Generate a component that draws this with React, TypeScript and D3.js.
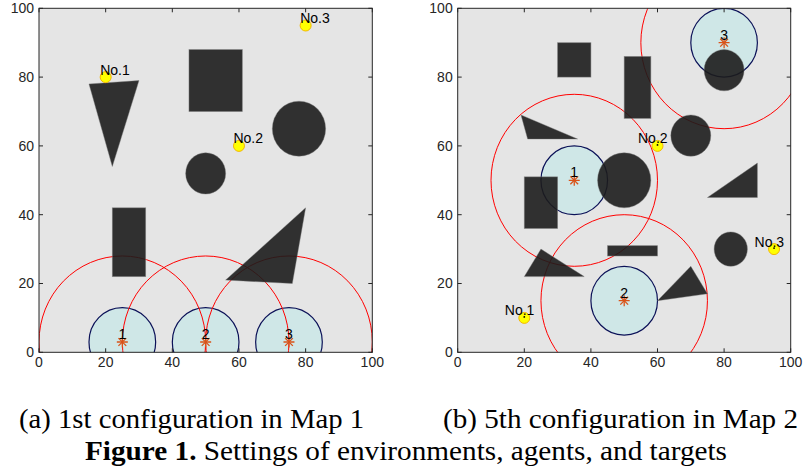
import React from "react";
import * as d3 from "d3";

type Pt = [number, number];

const tickValues = [0, 20, 40, 60, 80, 100];
const sensingRadius = 10;
const commRadius = 25;

// Map 1 (a)
const map1Rects = [
  { x0: 22, y0: 22, x1: 32, y1: 42 },
  { x0: 45, y0: 70, x1: 61, y1: 88 },
];
const map1Circles = [
  { cx: 50, cy: 52, r: 6 },
  { cx: 78, cy: 65, r: 8 },
];
const map1Triangles: Pt[][] = [
  [[15, 78], [30, 79], [22, 54]],
  [[56, 21], [80, 42], [76, 20]],
];
const map1Agents = [
  { id: "1", x: 25, y: 3 },
  { id: "2", x: 50, y: 3 },
  { id: "3", x: 75, y: 3 },
];
const map1Targets = [
  { name: "No.1", x: 20, y: 80 },
  { name: "No.2", x: 60, y: 60 },
  { name: "No.3", x: 80, y: 95 },
];

// Map 2 (b)
const map2Rects = [
  { x0: 30, y0: 80, x1: 40, y1: 90 },
  { x0: 50, y0: 68, x1: 58, y1: 86 },
  { x0: 20, y0: 36, x1: 30, y1: 51 },
  { x0: 45, y0: 28, x1: 60, y1: 31 },
];
const map2Circles = [
  { cx: 80, cy: 82, r: 6 },
  { cx: 70, cy: 63, r: 6 },
  { cx: 50, cy: 50, r: 8 },
  { cx: 82, cy: 30, r: 5 },
];
const map2Triangles: Pt[][] = [
  [[19, 69], [21, 62], [36, 62]],
  [[90, 55], [75, 45], [90, 45]],
  [[25, 30], [20, 22], [38, 22]],
  [[70, 25], [60, 15], [75, 17]],
];
const map2Agents = [
  { id: "1", x: 35, y: 50 },
  { id: "2", x: 50, y: 15 },
  { id: "3", x: 80, y: 90 },
];
const map2Targets = [
  { name: "No.1", x: 20, y: 10 },
  { name: "No.2", x: 60, y: 60 },
  { name: "No.3", x: 95, y: 30 },
];

const captionA = "(a) 1st configuration in Map 1";
const captionB = "(b) 5th configuration in Map 2";
const figBold = "Figure 1.";
const figRest = " Settings of environments, agents, and targets";

const AXIS_COLOR = "#262626";
const OBST_FILL = "#1c1c1c";
const SANS = "Liberation Sans";
const SERIF = "Liberation Serif";

interface PanelProps {
  id: string;
  left: number;
  right: number;
  top: number;
  bottom: number;
  rects: { x0: number; y0: number; x1: number; y1: number }[];
  circles: { cx: number; cy: number; r: number }[];
  triangles: Pt[][];
  agents: { id: string; x: number; y: number }[];
  targets: { name: string; x: number; y: number }[];
  labelDx: number;
  dotMark: boolean;
}

function Panel(p: PanelProps) {
  const x = d3.scaleLinear().domain([0, 100]).range([p.left, p.right]);
  const y = d3.scaleLinear().domain([0, 100]).range([p.bottom, p.top]);
  const rx = (r: number) => x(r) - x(0);
  const ry = (r: number) => y(0) - y(r);
  const line = d3.line<Pt>().x((d) => x(d[0])).y((d) => y(d[1]));
  const clipId = `clip-${p.id}`;
  const tickLen = 4;
  const star = (cx: number, cy: number) => {
    const s = 5.5;
    return [0, 45, 90, 135].map((a) => {
      const rad = (a * Math.PI) / 180;
      return (
        <line
          key={a}
          x1={cx - s * Math.cos(rad)}
          y1={cy - s * Math.sin(rad)}
          x2={cx + s * Math.cos(rad)}
          y2={cy + s * Math.sin(rad)}
          stroke="#d95319"
          strokeWidth={1.3}
        />
      );
    });
  };
  return (
    <g>
      <defs>
        <clipPath id={clipId}>
          <rect x={p.left} y={p.top} width={p.right - p.left} height={p.bottom - p.top} />
        </clipPath>
      </defs>
      <rect x={p.left} y={p.top} width={p.right - p.left} height={p.bottom - p.top} fill="#e5e5e5" />
      <g clipPath={`url(#${clipId})`}>
        {p.agents.map((a) => (
          <ellipse
            key={"s" + a.id}
            cx={x(a.x)}
            cy={y(a.y)}
            rx={rx(sensingRadius)}
            ry={ry(sensingRadius)}
            fill="#cfe7e7"
            stroke="#0c1258"
            strokeWidth={1.2}
          />
        ))}
        {p.agents.map((a) => (
          <ellipse
            key={"c" + a.id}
            cx={x(a.x)}
            cy={y(a.y)}
            rx={rx(commRadius)}
            ry={ry(commRadius)}
            fill="none"
            stroke="#ff0000"
            strokeWidth={1}
          />
        ))}
        {p.rects.map((r, i) => (
          <rect
            key={"r" + i}
            x={x(r.x0)}
            y={y(r.y1)}
            width={x(r.x1) - x(r.x0)}
            height={y(r.y0) - y(r.y1)}
            fill={OBST_FILL}
            fillOpacity={0.9}
            stroke="#7a7a7a"
            strokeOpacity={0.6}
            strokeWidth={0.8}
          />
        ))}
        {p.circles.map((c, i) => (
          <ellipse
            key={"o" + i}
            cx={x(c.cx)}
            cy={y(c.cy)}
            rx={rx(c.r)}
            ry={ry(c.r)}
            fill={OBST_FILL}
            fillOpacity={0.9}
            stroke="#7a7a7a"
            strokeOpacity={0.5}
            strokeWidth={0.8}
          />
        ))}
        {p.triangles.map((t, i) => (
          <path
            key={"t" + i}
            d={line([...t, t[0]]) || ""}
            fill={OBST_FILL}
            fillOpacity={0.9}
            stroke="#7a7a7a"
            strokeOpacity={0.5}
            strokeWidth={0.8}
          />
        ))}
        {p.agents.map((a) => (
          <g key={"a" + a.id}>
            {star(x(a.x), y(a.y))}
            <text
              x={x(a.x)}
              y={y(a.y) - 3}
              textAnchor="middle"
              fontFamily={SANS}
              fontSize={14}
              fill="#000"
            >
              {a.id}
            </text>
          </g>
        ))}
        {p.targets.map((t) => (
          <g key={t.name}>
            <circle cx={x(t.x)} cy={y(t.y)} r={5.5} fill="#ffff00" stroke="#f2b705" strokeWidth={1} />
            {p.dotMark && <circle cx={x(t.x)} cy={y(t.y) - 1} r={0.9} fill="#000" />}
            <text
              x={x(t.x) + p.labelDx}
              y={y(t.y) - 2.5}
              fontFamily={SANS}
              fontSize={14}
              fill="#000"
            >
              {t.name}
            </text>
          </g>
        ))}
      </g>
      <rect
        x={p.left}
        y={p.top}
        width={p.right - p.left}
        height={p.bottom - p.top}
        fill="none"
        stroke={AXIS_COLOR}
        strokeWidth={1}
      />
      {tickValues.map((v) => (
        <g key={"xt" + v}>
          <line x1={x(v)} x2={x(v)} y1={p.bottom} y2={p.bottom - tickLen} stroke={AXIS_COLOR} />
          <line x1={x(v)} x2={x(v)} y1={p.top} y2={p.top + tickLen} stroke={AXIS_COLOR} />
          <text
            x={x(v)}
            y={p.bottom + 15}
            textAnchor="middle"
            fontFamily={SANS}
            fontSize={14}
            fill={AXIS_COLOR}
          >
            {v}
          </text>
        </g>
      ))}
      {tickValues.map((v) => (
        <g key={"yt" + v}>
          <line x1={p.left} x2={p.left + tickLen} y1={y(v)} y2={y(v)} stroke={AXIS_COLOR} />
          <line x1={p.right} x2={p.right - tickLen} y1={y(v)} y2={y(v)} stroke={AXIS_COLOR} />
          <text
            x={p.left - 5}
            y={y(v)}
            dy="0.35em"
            textAnchor="end"
            fontFamily={SANS}
            fontSize={14}
            fill={AXIS_COLOR}
          >
            {v}
          </text>
        </g>
      ))}
    </g>
  );
}

export default function App() {
  return (
    <svg
      width={803}
      height={475}
      style={{ position: "absolute", left: 0, top: 0, background: "#fff" }}
    >
      <rect x={0} y={0} width={803} height={475} fill="#fff" />
      <Panel
        id="a"
        left={39}
        right={372.3}
        top={8.3}
        bottom={352.3}
        rects={map1Rects}
        circles={map1Circles}
        triangles={map1Triangles}
        agents={map1Agents}
        targets={map1Targets}
        labelDx={-5.5}
        dotMark={false}
      />
      <Panel
        id="b"
        left={457.7}
        right={790.7}
        top={8.3}
        bottom={352.3}
        rects={map2Rects}
        circles={map2Circles}
        triangles={map2Triangles}
        agents={map2Agents}
        targets={map2Targets}
        labelDx={-19.5}
        dotMark={true}
      />
      <text x={19} y={428} fontFamily={SERIF} fontSize={26.5} textLength={345} lengthAdjust="spacingAndGlyphs" fill="#000">
        {captionA}
      </text>
      <text x={443} y={428} fontFamily={SERIF} fontSize={26.5} textLength={355} lengthAdjust="spacingAndGlyphs" fill="#000">
        {captionB}
      </text>
      <text x={85} y={460} fontFamily={SERIF} fontSize={26.5} textLength={642} lengthAdjust="spacingAndGlyphs" fill="#000">
        <tspan fontWeight="bold">{figBold}</tspan>
        <tspan>{figRest}</tspan>
      </text>
    </svg>
  );
}
